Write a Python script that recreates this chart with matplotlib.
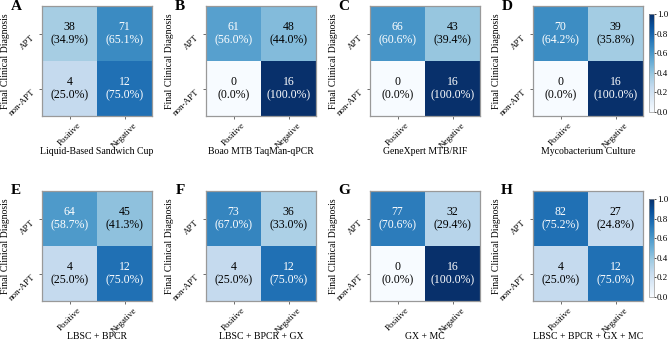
import numpy as np
import matplotlib
matplotlib.use("Agg")
import matplotlib.pyplot as plt

plt.rcParams['font.family'] = ['Liberation Serif', 'DejaVu Serif']

# counts per panel: rows = APT, non-APT ; cols = Positive, Negative
panel_letters = ["A", "B", "C", "D", "E", "F", "G", "H"]
panel_titles = ["Liquid-Based Sandwich Cup", "Boao MTB TaqMan-qPCR",
                "GeneXpert MTB/RIF", "Mycobacterium Culture",
                "LBSC + BPCR", "LBSC + BPCR + GX", "GX + MC",
                "LBSC + BPCR + GX + MC"]
apt_pos = [38, 61, 66, 70, 64, 73, 77, 82]
apt_neg = [71, 48, 43, 39, 45, 36, 32, 27]
non_pos = [4, 0, 0, 0, 4, 4, 0, 4]
non_neg = [12, 16, 16, 16, 12, 12, 16, 12]
row_labels = ["APT", "non-APT"]
col_labels = ["Positive", "Negative"]

W, H = 669, 342
fig = plt.figure(figsize=(W / 100, H / 100), dpi=100)

lefts = [42, 206, 370, 533]
tops = [6, 191]
size = 110

for i in range(8):
    r, c = divmod(i, 4)
    x0 = lefts[c] / W
    y0 = (H - tops[r] - size) / H
    ax = fig.add_axes([x0, y0, size / W, size / H])

    counts = np.array([[apt_pos[i], apt_neg[i]], [non_pos[i], non_neg[i]]])
    pct = counts / counts.sum(axis=1, keepdims=True)
    im = ax.imshow(pct, cmap="Blues", vmin=0, vmax=1, aspect="auto")

    for a in range(2):
        for b in range(2):
            col = "white" if pct[a, b] > 0.5 else "black"
            ax.text(b, a, "%d\n(%.1f%%)" % (counts[a, b], pct[a, b] * 100),
                    ha="center", va="center", color=col, fontsize=8.5,
                    linespacing=1.1)

    ax.set_xticks([0, 1])
    ax.set_yticks([0, 1])
    ax.set_xticklabels(col_labels, rotation=45, fontsize=6.5)
    ax.set_yticklabels(row_labels, rotation=45, fontsize=6.5, va="top")
    ax.tick_params(length=2.5, width=0.6, color="#555555", pad=1.5)
    ax.set_xlabel(panel_titles[i], fontsize=7)
    ax.set_ylabel("Final Clinical Diagnosis", fontsize=7)
    ax.xaxis.set_label_coords(0.5, -0.285)
    ax.yaxis.set_label_coords(-0.29, 0.5)
    for sp in ax.spines.values():
        sp.set_color("#999999")
        sp.set_linewidth(0.9)

    ax.text(-0.235, 1.0, panel_letters[i], transform=ax.transAxes,
            fontsize=11, fontweight="bold", ha="center", va="center")

    if c == 3:
        cax = fig.add_axes([649 / W, (H - tops[r] - size + 4) / H,
                            5 / W, (size - 12) / H])
        cb = fig.colorbar(im, cax=cax, ticks=[0, 0.2, 0.4, 0.6, 0.8, 1.0])
        cb.ax.tick_params(labelsize=6.5, length=1.5, width=0.5, pad=0.5)
        cb.ax.set_yticklabels(["0.0", "0.2", "0.4", "0.6", "0.8", "1.0"])
        cb.outline.set_edgecolor("#999999")
        cb.outline.set_linewidth(0.5)

fig.savefig("out.png", dpi=100)
